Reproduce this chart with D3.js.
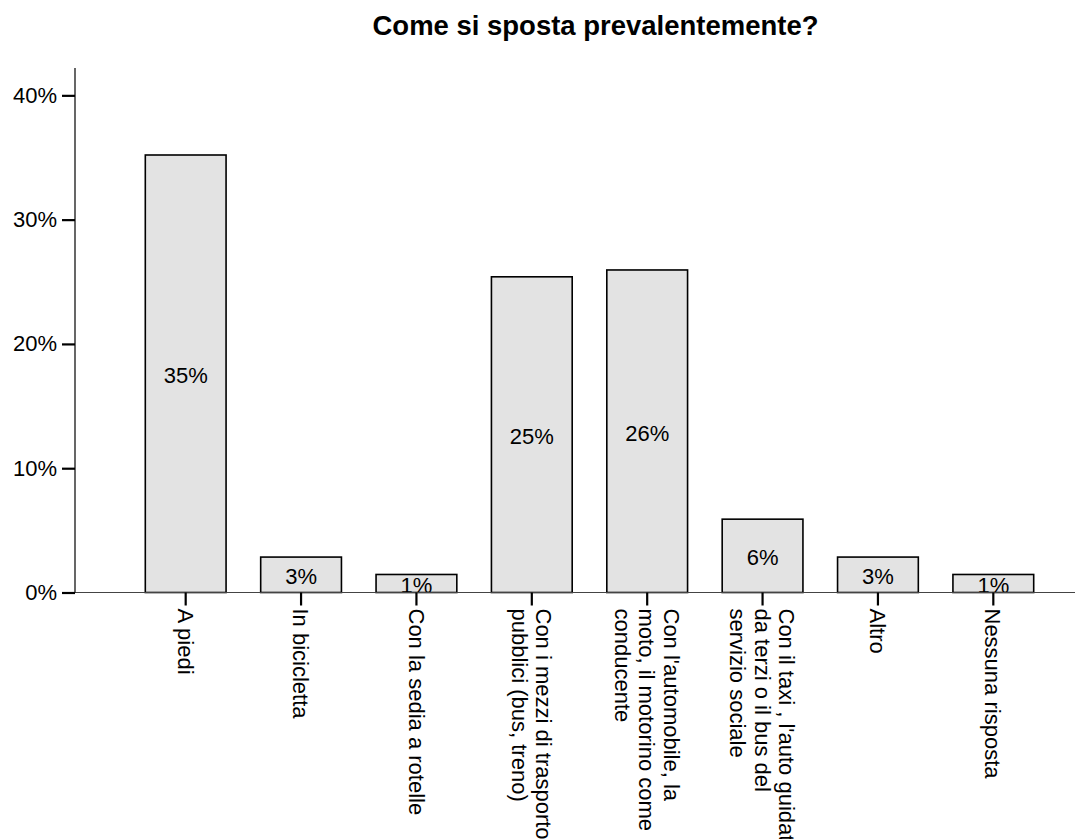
<!DOCTYPE html>
<html>
<head>
<meta charset="utf-8">
<script src="https://cdn.jsdelivr.net/npm/d3@7"></script>
<style>
  html, body { margin: 0; padding: 0; background: #fff; }
  svg { display: block; font-family: "Liberation Sans", Arial, sans-serif; }
</style>
</head>
<body>
<svg id="chart" width="1090" height="839"></svg>
<script>
const title = "Come si sposta prevalentemente?";
const categories = [
  ["A piedi"],
  ["In bicicletta"],
  ["Con la sedia a rotelle"],
  ["Con i mezzi di trasporto", "pubblici (bus, treno)"],
  ["Con l'automobile, la", "moto, il motorino come", "conducente"],
  ["Con il taxi , l'auto guidata", "da terzi o il bus del", "servizio sociale"],
  ["Altro"],
  ["Nessuna risposta"]
];
const values = [35.2, 2.85, 1.45, 25.4, 25.95, 5.9, 2.85, 1.45];
const barLabels = ["35%", "3%", "1%", "25%", "26%", "6%", "3%", "1%"];
const yTicks = [0, 10, 20, 30, 40];

const svg = d3.select("#chart");
const plot = { left: 75, right: 1075, top: 68, bottom: 592.5 };

const keys = categories.map((c, i) => String(i));
const x = d3.scaleBand().domain(keys).range([128, 1051]).paddingInner(0.3).paddingOuter(0.15);
const y = d3.scaleLinear().domain([0, 42.2]).range([plot.bottom, plot.top]);

const FS = 22;

// title
svg.append("text")
  .attr("x", 595.5).attr("y", 34.5)
  .attr("text-anchor", "middle")
  .attr("font-weight", "bold")
  .attr("font-size", 27)
  .attr("textLength", 446)
  .attr("lengthAdjust", "spacingAndGlyphs")
  .attr("fill", "#000")
  .text(title);

// clip for labels inside plot
svg.append("defs").append("clipPath").attr("id", "plotclip")
  .append("rect").attr("x", plot.left).attr("y", plot.top)
  .attr("width", plot.right - plot.left).attr("height", plot.bottom - plot.top);

// bars
svg.append("g").selectAll("rect").data(values).join("rect")
  .attr("x", (d, i) => x(keys[i]))
  .attr("y", d => y(d))
  .attr("width", x.bandwidth())
  .attr("height", d => y(0) - y(d))
  .attr("fill", "#e3e3e3")
  .attr("stroke", "#000")
  .attr("stroke-width", 1.6);

// bar labels
svg.append("g").attr("clip-path", "url(#plotclip)")
  .selectAll("text").data(values).join("text")
  .attr("x", (d, i) => x(keys[i]) + x.bandwidth() / 2)
  .attr("y", d => (y(d) + y(0)) / 2 + 1.5)
  .attr("dy", "0.36em")
  .attr("text-anchor", "middle")
  .attr("font-size", FS)
  .attr("fill", "#000")
  .text((d, i) => barLabels[i]);

// x axis line
svg.append("line")
  .attr("x1", 62).attr("x2", plot.right)
  .attr("y1", y(0)).attr("y2", y(0))
  .attr("stroke", "#444").attr("stroke-width", 1.2);

// y axis
const yAxis = d3.axisLeft(y).tickValues(yTicks).tickFormat(d => d + "%").tickSize(13).tickPadding(5);
const gy = svg.append("g").attr("transform", `translate(${plot.left},0)`).call(yAxis);
gy.select(".domain").attr("d", `M0,${plot.top}V${plot.bottom}`).attr("stroke", "#000").attr("stroke-width", 1.2);
gy.selectAll(".tick line").attr("stroke", "#000").attr("stroke-width", 2.2);
gy.selectAll(".tick text").attr("font-size", FS).attr("fill", "#000").attr("font-family", "Liberation Sans, Arial, sans-serif");

// x ticks
const xAxis = d3.axisBottom(x).tickSize(13).tickFormat("");
const gx = svg.append("g").attr("transform", `translate(0,${y(0)})`).call(xAxis);
gx.select(".domain").remove();
gx.selectAll(".tick line").attr("stroke", "#000").attr("stroke-width", 2.2);

// category labels rotated
const lineH = 24.5;
const lab = svg.append("g");
categories.forEach((lines, i) => {
  const cx = x(keys[i]) + x.bandwidth() / 2;
  const n = lines.length;
  const t = lab.append("text")
    .attr("transform", `translate(${cx},${y(0) + 16}) rotate(90)`)
    .attr("font-size", FS)
    .attr("fill", "#000")
    .attr("text-anchor", "start");
  lines.forEach((ln, j) => {
    const off = -((n - 1) / 2 - j) * lineH;
    t.append("tspan").attr("x", 0).attr("y", off).attr("dy", "0.36em").text(ln);
  });
});
</script>
</body>
</html>
